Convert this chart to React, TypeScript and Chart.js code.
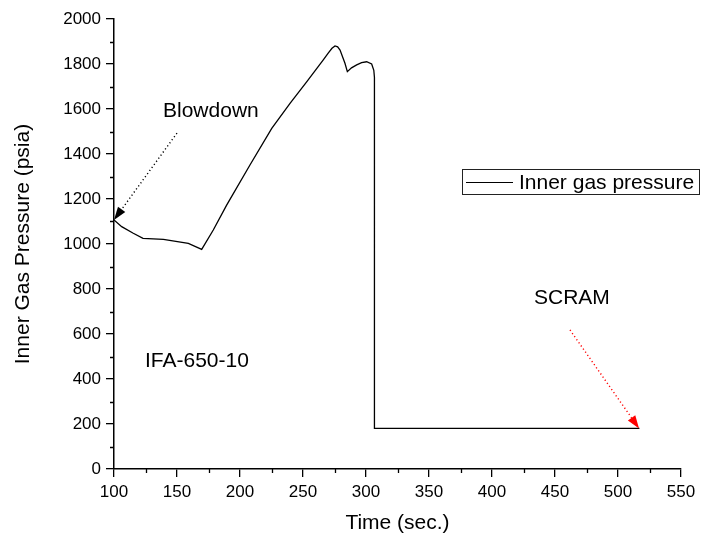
import React, { useEffect, useRef } from "react";
import { Chart, registerables } from "chart.js";

Chart.register(...registerables);

// Data
const times = [100, 106.1, 115.3, 123, 139.2, 159, 169.6, 178.8, 189.4, 207.9, 225.2, 239.7, 252.9, 266.1, 270, 273, 275.4, 277.5, 279.4, 283.3, 285.2, 288.5, 292.6, 296.5, 300.5, 304.5, 306.2, 306.7, 306.7, 517];
const pressures = [1107, 1077, 1048, 1025, 1021, 1003, 976, 1062, 1173, 1351, 1514, 1625, 1721, 1818, 1848, 1870, 1880, 1876, 1862, 1803, 1766, 1783, 1796, 1806, 1810, 1800, 1772, 1740, 181, 181];
const seriesLabel = "Inner gas pressure";
const xTitle = "Time (sec.)";
const yTitle = "Inner Gas Pressure (psia)";
const xMinorTicks = [125, 175, 225, 275, 325, 375, 425, 475, 525];
const yMinorTicks = [100, 300, 500, 700, 900, 1100, 1300, 1500, 1700, 1900];
const annotations = [
  { text: "Blowdown", x: 163, y: 117 },
  { text: "IFA-650-10", x: 145, y: 367 },
  { text: "SCRAM", x: 534, y: 304 },
];
// arrows in data coordinates: [fromT, fromP, toT, toP]
const blowdownArrow = [150, 1493, 100, 1107];
const scramArrow = [461.9, 618, 516.7, 180];

const FONT = '"Liberation Sans", Arial, sans-serif';

function drawArrow(ctx: CanvasRenderingContext2D, x1: number, y1: number, x2: number, y2: number, color: string) {
  const ang = Math.atan2(y2 - y1, x2 - x1);
  const headLen = 13;
  const headW = 4.5;
  const bx = x2 - headLen * Math.cos(ang);
  const by = y2 - headLen * Math.sin(ang);
  ctx.save();
  ctx.strokeStyle = color;
  ctx.fillStyle = color;
  ctx.lineWidth = 1.4;
  ctx.setLineDash([1.2, 2.6]);
  ctx.beginPath();
  ctx.moveTo(x1, y1);
  ctx.lineTo(bx, by);
  ctx.stroke();
  ctx.setLineDash([]);
  ctx.beginPath();
  ctx.moveTo(x2, y2);
  ctx.lineTo(bx + headW * Math.sin(ang), by - headW * Math.cos(ang));
  ctx.lineTo(bx - headW * Math.sin(ang), by + headW * Math.cos(ang));
  ctx.closePath();
  ctx.fill();
  ctx.restore();
}

const decorPlugin = {
  id: "decor",
  afterDraw(chart: any) {
    const ctx: CanvasRenderingContext2D = chart.ctx;
    const xs = chart.scales.x;
    const ys = chart.scales.y;
    const area = chart.chartArea;
    ctx.save();
    // minor ticks
    ctx.strokeStyle = "#000";
    ctx.lineWidth = 1.3;
    ctx.beginPath();
    xMinorTicks.forEach((v) => {
      const px = Math.round(xs.getPixelForValue(v)) + 0.5;
      ctx.moveTo(px, area.bottom);
      ctx.lineTo(px, area.bottom + 4);
    });
    yMinorTicks.forEach((v) => {
      const py = Math.round(ys.getPixelForValue(v)) + 0.5;
      ctx.moveTo(area.left, py);
      ctx.lineTo(area.left - 4, py);
    });
    ctx.stroke();

    // legend
    ctx.strokeStyle = "#222";
    ctx.lineWidth = 1;
    ctx.strokeRect(462.5, 169.5, 237, 25);
    ctx.beginPath();
    ctx.moveTo(466, 182.5);
    ctx.lineTo(513, 182.5);
    ctx.strokeStyle = "#000";
    ctx.lineWidth = 1.2;
    ctx.stroke();
    ctx.fillStyle = "#000";
    ctx.font = `21px ${FONT}`;
    ctx.textBaseline = "alphabetic";
    ctx.textAlign = "left";
    ctx.fillText(seriesLabel, 519, 189);

    // annotations
    annotations.forEach((a) => ctx.fillText(a.text, a.x, a.y));

    drawArrow(
      ctx,
      xs.getPixelForValue(blowdownArrow[0]), ys.getPixelForValue(blowdownArrow[1]),
      xs.getPixelForValue(blowdownArrow[2]), ys.getPixelForValue(blowdownArrow[3]),
      "#000"
    );
    drawArrow(
      ctx,
      xs.getPixelForValue(scramArrow[0]), ys.getPixelForValue(scramArrow[1]),
      xs.getPixelForValue(scramArrow[2]), ys.getPixelForValue(scramArrow[3]),
      "#ff0000"
    );
    ctx.restore();
  },
};

export default function App() {
  const ref = useRef<HTMLCanvasElement | null>(null);
  useEffect(() => {
    if (!ref.current) return;
    const data = times.map((t, i) => ({ x: t, y: pressures[i] }));
    const chart = new Chart(ref.current, {
      type: "line",
      data: {
        datasets: [
          {
            label: seriesLabel,
            data,
            borderColor: "#000",
            borderWidth: 1.3,
            pointRadius: 0,
            tension: 0,
            fill: false,
          },
        ],
      },
      options: {
        animation: false,
        responsive: false,
        devicePixelRatio: 1,
        layout: { padding: { top: 19, right: 21, left: 0, bottom: 0 } },
        plugins: { legend: { display: false }, tooltip: { enabled: false } },
        scales: {
          x: {
            type: "linear",
            min: 100,
            max: 550,
            afterFit: (s: any) => { s.height = 74; },
            ticks: { stepSize: 50, color: "#000", font: { family: FONT, size: 17 }, padding: 5, maxRotation: 0, callback: (v: any) => String(v) },
            grid: { drawOnChartArea: false, drawTicks: true, tickLength: 8, color: "#000", lineWidth: 1.3 },
            border: { display: true, color: "#000", width: 1.5 },
            title: { display: true, text: xTitle, color: "#000", font: { family: FONT, size: 21 }, padding: { top: 0, bottom: 7 } },
          },
          y: {
            min: 0,
            max: 2000,
            afterFit: (s: any) => { s.width = 114; },
            ticks: { stepSize: 200, color: "#000", font: { family: FONT, size: 17 }, padding: 5, callback: (v: any) => String(v) },
            grid: { drawOnChartArea: false, drawTicks: true, tickLength: 8, color: "#000", lineWidth: 1.3 },
            border: { display: true, color: "#000", width: 1.5 },
            title: { display: true, text: yTitle, color: "#000", font: { family: FONT, size: 21 }, padding: { top: 11, bottom: 0 } },
          },
        },
      },
      plugins: [decorPlugin],
    });
    return () => chart.destroy();
  }, []);
  return (
    <div style={{ position: "fixed", left: 0, top: 0, width: 702, height: 543, background: "#fff" }}>
      <canvas ref={ref} width={702} height={543} />
    </div>
  );
}
